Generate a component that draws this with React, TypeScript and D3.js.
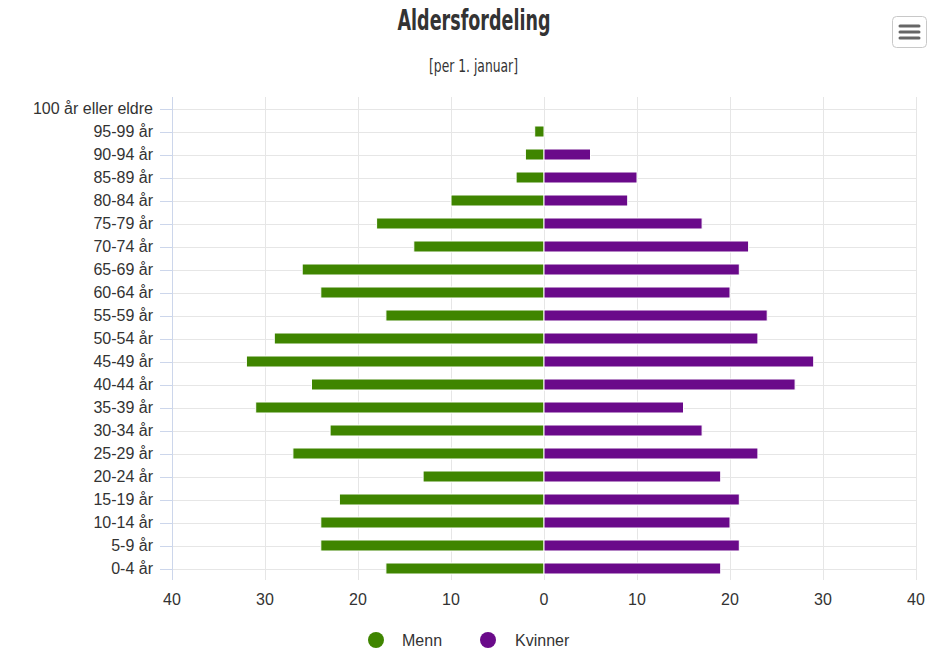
import React from "react";
import * as d3 from "d3";

const categories = [
  "100 år eller eldre", "95-99 år", "90-94 år", "85-89 år", "80-84 år", "75-79 år",
  "70-74 år", "65-69 år", "60-64 år", "55-59 år", "50-54 år", "45-49 år", "40-44 år",
  "35-39 år", "30-34 år", "25-29 år", "20-24 år", "15-19 år", "10-14 år", "5-9 år", "0-4 år",
];
const menn = [0, 1, 2, 3, 10, 18, 14, 26, 24, 17, 29, 32, 25, 31, 23, 27, 13, 22, 24, 24, 17];
const kvinner = [0, 0, 5, 10, 9, 17, 22, 21, 20, 24, 23, 29, 27, 15, 17, 23, 19, 21, 20, 21, 19];
const xTicks = [-40, -30, -20, -10, 0, 10, 20, 30, 40];
const seriesNames = ["Menn", "Kvinner"];
const seriesColors = ["#3f8500", "#6a0a8a"];

const W = 952;
const H = 660;
const left = 172;
const right = 916;
const top = 97;
const bottom = 580;

export default function App() {
  const x = d3.scaleLinear().domain([-40, 40]).range([left, right]);
  const y = d3.scaleBand<string>().domain(categories).range([top, bottom]).padding(0);
  const barH = 11;
  const cy = (c: string) => (y(c) as number) + y.bandwidth() / 2;
  const font = "'Liberation Sans', Arial, Helvetica, sans-serif";
  const condensed = "'Liberation Sans Narrow', 'DejaVu Sans Condensed', 'Arial Narrow', sans-serif";

  return (
    <svg
      width={W}
      height={H}
      style={{ position: "absolute", left: 0, top: 0, background: "#fff" }}
      fontFamily={font}
    >
      <rect x={0} y={0} width={W} height={H} fill="#fff" />
      {/* title */}
      <text
        x={474}
        y={30}
        textAnchor="middle"
        fontFamily={condensed}
        fontWeight="bold"
        fontSize={29}
        fill="#333"
        textLength={153}
        lengthAdjust="spacingAndGlyphs"
      >
        Aldersfordeling
      </text>
      <text
        x={473.5}
        y={72}
        textAnchor="middle"
        fontFamily={condensed}
        fontSize={17}
        fill="#333"
        textLength={89}
        lengthAdjust="spacingAndGlyphs"
      >
        [per 1. januar]
      </text>

      {/* menu button */}
      <rect x={892.5} y={16.5} width={34} height={31} rx={4} fill="#fff" stroke="#c8c8c8" strokeWidth={1} />
      {[26, 32, 38].map((yy) => (
        <line key={yy} x1={900} x2={919} y1={yy} y2={yy} stroke="#666" strokeWidth={3} strokeLinecap="round" />
      ))}

      {/* vertical grid lines */}
      {xTicks.map((t) => (
        <line
          key={"v" + t}
          x1={Math.round(x(t)) + 0.5}
          x2={Math.round(x(t)) + 0.5}
          y1={top}
          y2={bottom}
          stroke="#e6e6e6"
          strokeWidth={1}
        />
      ))}
      {/* horizontal grid lines + ticks */}
      {categories.map((c) => (
        <g key={"h" + c}>
          <line x1={left} x2={right} y1={Math.round(cy(c)) + 0.5} y2={Math.round(cy(c)) + 0.5} stroke="#e6e6e6" />
          <line x1={160} x2={left} y1={Math.round(cy(c)) + 0.5} y2={Math.round(cy(c)) + 0.5} stroke="#ccd6eb" />
        </g>
      ))}
      {/* left axis line */}
      <line x1={left + 0.5} x2={left + 0.5} y1={top} y2={bottom} stroke="#ccd6eb" />

      {/* bars */}
      {categories.map((c, i) => (
        <g key={"b" + c}>
          {menn[i] > 0 && (
            <rect
              x={x(-menn[i])}
              y={cy(c) - barH / 2}
              width={x(0) - x(-menn[i])}
              height={barH}
              fill={seriesColors[0]}
              stroke="#fff"
              strokeWidth={1}
            />
          )}
          {kvinner[i] > 0 && (
            <rect
              x={x(0)}
              y={cy(c) - barH / 2}
              width={x(kvinner[i]) - x(0)}
              height={barH}
              fill={seriesColors[1]}
              stroke="#fff"
              strokeWidth={1}
            />
          )}
        </g>
      ))}

      {/* y labels */}
      {categories.map((c) => (
        <text key={"l" + c} x={153} y={cy(c)} dy="0.35em" textAnchor="end" fontSize={16} fill="#333">
          {c}
        </text>
      ))}
      {/* x labels */}
      {xTicks.map((t) => (
        <text key={"xl" + t} x={x(t)} y={605} textAnchor="middle" fontSize={16} fill="#333">
          {Math.abs(t)}
        </text>
      ))}

      {/* legend */}
      {seriesNames.map((n, i) => (
        <g key={n}>
          <circle cx={i === 0 ? 376 : 488} cy={640} r={8} fill={seriesColors[i]} />
          <text x={i === 0 ? 402 : 515} y={646} fontSize={16} fill="#333">
            {n}
          </text>
        </g>
      ))}
    </svg>
  );
}
